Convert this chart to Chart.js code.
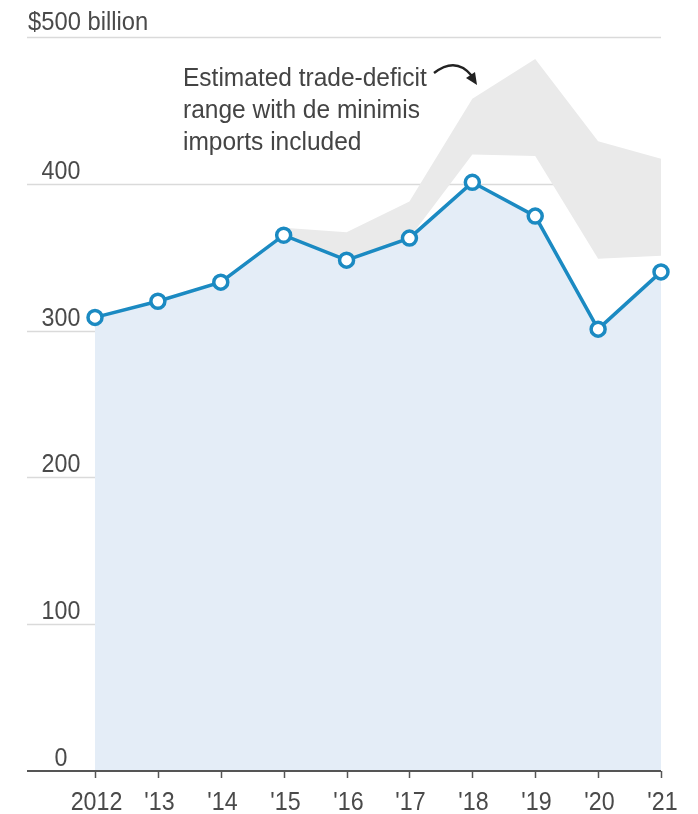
<!DOCTYPE html>
<html>
<head>
<meta charset="utf-8">
<script src="https://cdn.jsdelivr.net/npm/chart.js@4.4.1/dist/chart.umd.min.js"></script>
<style>
  html, body { margin: 0; padding: 0; background: #fff; }
  #wrap { width: 698px; height: 814px; }
</style>
</head>
<body>
<div id="wrap"><canvas id="deficitChart" width="698" height="814"></canvas></div>
<script>
// data ($ billion)
const years = ['2012', "'13", "'14", "'15", "'16", "'17", "'18", "'19", "'20", "'21"]
const tradeDeficit = [309, 320, 333, 365, 348, 363, 401, 378, 301, 340]
const rangeHigh = [null, null, null, 370, 367, 388, 458, 485, 429, 417]
const rangeLow = [null, null, null, 365, 348, 363, 420, 419, 349, 351]
const yTicks = [0, 100, 200, 300, 400, 500]
const noteLines = ['Estimated trade-deficit', 'range with de minimis', 'imports included']

const FONT = '"Liberation Sans", Arial, sans-serif'
const BLUE = '#1b8ac2'

// text drawn a bit condensed, like the original's narrow face
function narrowText(ctx, text, x, y, align, sx) {
    ctx.save()
    ctx.translate(x, y)
    ctx.scale(sx || 0.93, 1)
    ctx.textAlign = align
    ctx.fillText(text, 0, 0)
    ctx.restore()
}

// gridlines, y labels, x axis and the note
const decorations = {
    id: 'decorations',
    beforeDatasetsDraw(chart) {
        const ctx = chart.ctx
        const y = chart.scales.y
        const area = chart.chartArea
        ctx.save()
        ctx.strokeStyle = '#dadada'
        ctx.lineWidth = 1.5
        yTicks.forEach(function(t) {
            if (t === 0) return
            const py = Math.round(y.getPixelForValue(t)) + 0.5
            ctx.beginPath()
            ctx.moveTo(27, py)
            ctx.lineTo(area.right, py)
            ctx.stroke()
        })
        ctx.restore()
    },
    afterDatasetsDraw(chart) {
        const ctx = chart.ctx
        const x = chart.scales.x
        const y = chart.scales.y
        const area = chart.chartArea
        ctx.save()
        ctx.font = '25px ' + FONT
        ctx.fillStyle = '#4a4a4a'
        ctx.textBaseline = 'alphabetic'
        yTicks.forEach(function(t) {
            const py = y.getPixelForValue(t)
            if (t === 500) {
                narrowText(ctx, '$500 billion', 28, py - 7, 'left', 0.95)
            } else {
                narrowText(ctx, String(t), 61, py - 5, 'center')
            }
        })

        // x axis line and ticks
        const base = Math.round(y.getPixelForValue(0))
        ctx.strokeStyle = '#555'
        ctx.lineWidth = 2
        ctx.beginPath()
        ctx.moveTo(27, base)
        ctx.lineTo(area.right, base)
        ctx.stroke()
        ctx.lineWidth = 1.5
        years.forEach(function(label, i) {
            const px = Math.round(x.getPixelForValue(i)) + 0.5
            ctx.beginPath()
            ctx.moveTo(px, base)
            ctx.lineTo(px, base + 7)
            ctx.stroke()
            narrowText(ctx, label, px + 1, base + 39, 'center')
        })

        // note text
        ctx.fillStyle = '#444'
        noteLines.forEach(function(line, i) {
            narrowText(ctx, line, 183, 86 + i * 32, 'left', 0.98)
        })

        // curved arrow
        ctx.strokeStyle = '#222'
        ctx.lineWidth = 2.4
        ctx.beginPath()
        ctx.moveTo(434, 73)
        ctx.quadraticCurveTo(456, 56, 472, 76)
        ctx.stroke()
        ctx.fillStyle = '#222'
        ctx.beginPath()
        ctx.moveTo(477, 85)
        ctx.lineTo(466, 78)
        ctx.lineTo(475, 72)
        ctx.closePath()
        ctx.fill()
        ctx.restore()
    }
}

new Chart(document.getElementById('deficitChart'), {
    type: 'line',
    data: {
        labels: years,
        datasets: [
            {
                label: 'range high',
                data: rangeHigh,
                borderWidth: 0,
                pointRadius: 0,
                backgroundColor: '#eaeaea',
                fill: '+1',
                order: 3
            },
            {
                label: 'range low',
                data: rangeLow,
                borderWidth: 0,
                pointRadius: 0,
                fill: false,
                order: 3
            },
            {
                label: 'Trade deficit',
                data: tradeDeficit,
                borderColor: BLUE,
                borderWidth: 3.5,
                backgroundColor: '#e4edf7',
                fill: 'origin',
                pointRadius: 7,
                pointBorderWidth: 3.5,
                pointBackgroundColor: '#fff',
                pointBorderColor: BLUE,
                tension: 0,
                order: 1
            }
        ]
    },
    options: {
        responsive: false,
        animation: false,
        layout: { padding: { left: 95, right: 37, top: 37, bottom: 43 } },
        plugins: {
            legend: { display: false },
            tooltip: { enabled: false }
        },
        scales: {
            x: { display: false, offset: false },
            y: { display: false, min: 0, max: 500 }
        }
    },
    plugins: [decorations]
})
</script>
</body>
</html>
